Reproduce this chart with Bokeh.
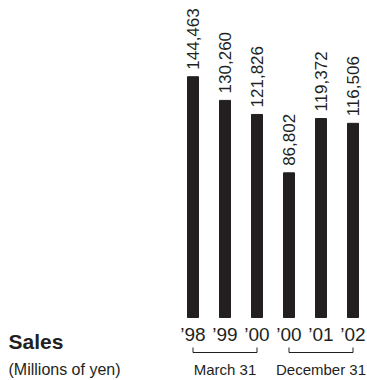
from bokeh.plotting import figure
from bokeh.models import Range1d, ColumnDataSource, Label
from bokeh.core.properties import value
from bokeh.embed import file_html
from bokeh.resources import INLINE
import math

years = ["’98", "’99", "’00", "’00", "’01", "’02"]
sales = [144463, 130260, 121826, 86802, 119372, 116506]
sales_labels = ["144,463", "130,260", "121,826", "86,802", "119,372", "116,506"]
groups = ["March 31", "December 31"]
group_spans = [(0, 2), (3, 5)]

INK = "#231f20"
FONT = "Liberation Sans"
PX = 600.0  # data units per pixel vertically

W, H = 367, 380
p = figure(width=W, height=H, output_backend="svg", toolbar_location=None,
           min_border=0, outline_line_color=None)
p.x_range = Range1d(-192.5 / 32, (W - 192.5) / 32)
p.y_range = Range1d(-63 * PX, 317 * PX)
p.axis.visible = False
p.grid.visible = False
p.background_fill_color = "white"

xs = list(range(len(sales)))
src = ColumnDataSource(dict(x=xs, top=sales, lab=sales_labels, yr=years,
                            ly=[v + 7 * PX for v in sales]))
p.vbar(x="x", top="top", bottom=0, width=11 / 32, color=INK, source=src)

p.text(x="x", y="ly", text="lab", angle=math.pi / 2, source=src,
       text_align="left", text_baseline="middle", text_color=INK,
       text_font=value(FONT), text_font_size="17px")

p.text(x="x", y=-17 * PX, text="yr", source=src, text_align="center",
       text_baseline="middle", text_color=INK,
       text_font=value(FONT), text_font_size="19px")

for (a, b), g in zip(group_spans, groups):
    p.multi_line(xs=[[a, a, b, b]], ys=[[-30 * PX, -35 * PX, -35 * PX, -30 * PX]],
                 line_color=INK, line_width=1)
    p.text(x=[(a + b) / 2], y=[-52 * PX], text=[g], text_align="center",
           text_baseline="middle", text_color=INK,
           text_font=value(FONT), text_font_size="15px")

p.add_layout(Label(x=8, y=H - 340.5, x_units="screen", y_units="screen",
                   text="Sales", text_font=FONT, text_font_size="21px",
                   text_font_style="bold", text_color=INK,
                   text_baseline="middle"))
p.add_layout(Label(x=8, y=H - 369, x_units="screen", y_units="screen",
                   text="(Millions of yen)", text_font=FONT, text_font_size="16px",
                   text_color=INK, text_baseline="middle"))

open("out.html", "w").write(file_html(p, INLINE))
